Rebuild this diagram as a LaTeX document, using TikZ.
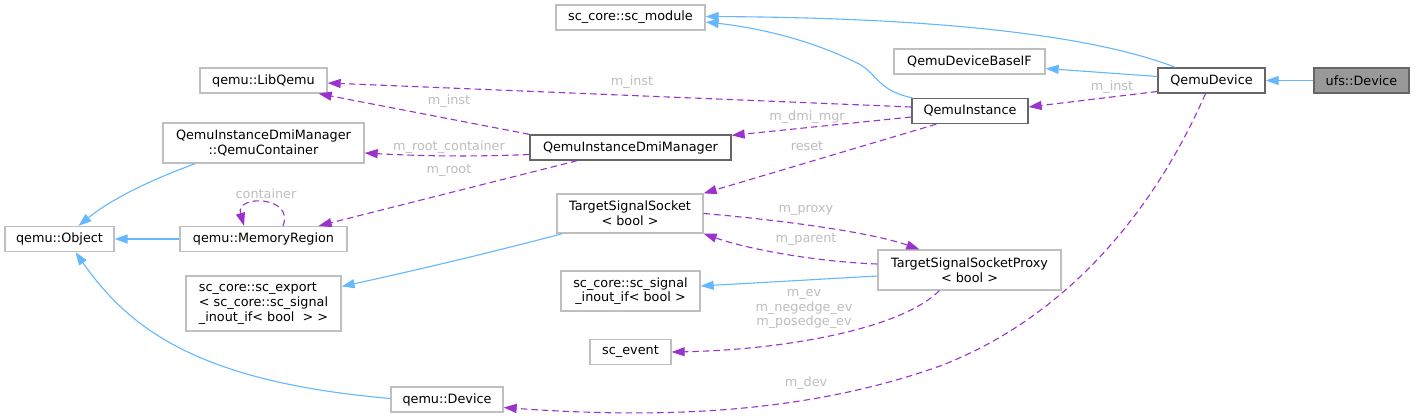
\documentclass[tikz,border=0pt]{standalone}
\usepackage{fontspec}
\setmainfont{DejaVu Sans}
\usetikzlibrary{arrows.meta,calc}
\definecolor{inh}{HTML}{63B8FF}
\definecolor{usec}{HTML}{9A32CD}
\definecolor{lbl}{HTML}{BEBEBE}
\definecolor{lightb}{HTML}{BFBFBF}
\definecolor{darkb}{HTML}{666666}
\definecolor{curfill}{HTML}{999999}
\begin{document}
\begin{tikzpicture}[x=1pt,y=-1pt,
  font=\fontsize{12.8}{14.6}\selectfont,
  box/.style={draw=lightb, line width=1.3pt, inner sep=0pt, align=center, text=black, fill=white},
  dbox/.style={box, draw=darkb},
  inhe/.style={draw=inh, line width=1.1pt, -{Triangle[length=13pt,width=9pt]}},
  usee/.style={draw=usec, line width=1.1pt, dash pattern=on 6.5pt off 4pt, -{Triangle[length=13pt,width=9pt]}},
  elbl/.style={text=lbl, align=center, inner sep=0pt}]
\useasboundingbox[fill=white] (0,0) rectangle (1415,419);

% nodes
\node[box, minimum width=149pt, minimum height=25pt] (scmod) at (630.5,17.5) {sc\_core::sc\_module};
\node[box, minimum width=151pt, minimum height=25pt] (baseif) at (969.5,61.5) {QemuDeviceBaseIF};
\node[dbox, minimum width=107pt, minimum height=25pt] (qdev) at (1211.5,80.5) {QemuDevice};
\node[dbox, fill=curfill, minimum width=95pt, minimum height=25pt] (ufs) at (1361.5,80.5) {ufs::Device};
\node[dbox, minimum width=116pt, minimum height=25pt] (qinst) at (970,111) {QemuInstance};
\node[box, minimum width=127pt, minimum height=25pt] (libq) at (263.5,80.5) {qemu::LibQemu};
\node[box, minimum width=201pt, minimum height=40pt] (qcont) at (263.5,143) {QemuInstanceDmiManager\\::QemuContainer};
\node[dbox, minimum width=201pt, minimum height=25pt] (dmi) at (630.5,147.5) {QemuInstanceDmiManager};
\node[box, minimum width=167pt, minimum height=25pt] (memreg) at (263.5,239) {qemu::MemoryRegion};
\node[box, minimum width=109pt, minimum height=25pt] (obj) at (59.5,239) {qemu::Object};
\node[box, minimum width=146pt, minimum height=39pt] (tss) at (630,213.5) {TargetSignalSocket\\< bool >};
\node[box, minimum width=183pt, minimum height=40pt] (proxy) at (969.5,270) {TargetSignalSocketProxy\\< bool >};
\node[box, minimum width=155pt, minimum height=55pt, align=left] (export) at (263.5,303.5) {sc\_core::sc\_export\\< sc\_core::sc\_signal\\\_inout\_if< bool\ \ > >};
\node[box, minimum width=139pt, minimum height=40pt] (sigif) at (630.5,291) {sc\_core::sc\_signal\\\_inout\_if< bool >};
\node[box, minimum width=81pt, minimum height=25pt] (scev) at (630.5,352) {sc\_event};
\node[box, minimum width=112pt, minimum height=25pt] (qdevice) at (447,399.5) {qemu::Device};

% inheritance edges
\draw[inhe] ($(qdev.north west)+(18,0)$) .. controls (1110,42) and (980,18) .. ($(scmod.east)+(0,-1)$);
\draw[inhe] ($(qinst.north west)+(1,0)$) .. controls (875,90) and (878,72) .. (855,62)
   .. controls (810,40) and (760,28) .. ($(scmod.east)+(0,4.5)$);
\draw[inhe] ($(qdev.west)+(0,-4)$) -- ($(baseif.east)+(0,7)$);
\draw[inhe] (ufs.west) -- (qdev.east);
\draw[inhe] ($(qcont.south west)+(33,0)$) .. controls (150,180) and (110,200) .. ($(obj.north)+(19,0)$);
\draw[inhe] (memreg.west) -- (obj.east);
\draw[inhe] ($(tss.south west)+(6,0)$) .. controls (520,245) and (440,265) .. ($(export.east)+(0,-17)$);
\draw[inhe] ($(proxy.west)+(0,6)$) -- ($(sigif.east)+(0,-5)$);
\draw[inhe] ($(qdevice.west)+(0,-1)$) .. controls (200,382) and (130,330) .. ($(obj.south)+(16,0)$);

% usage edges
\draw[usee] ($(qinst.west)+(0,-4)$) -- ($(libq.east)+(0,2.5)$);
\node[elbl] (l1) at (632,82) {m\_inst};
\draw[usee] (dmi.north west) -- ($(libq.south east)+(-9,0)$);
\node[elbl] (l2) at (449,101) {m\_inst};
\draw[usee] ($(qinst.west)+(0,6)$) -- ($(dmi.north east)+(0,1)$);
\node[elbl] (l3) at (807,117) {m\_dmi\_mgr};
\draw[usee] ($(dmi.west)+(0,7)$) .. controls (470,157) and (420,156) .. ($(qcont.east)+(0,10)$);
\node[elbl] (l4) at (449,147) {m\_root\_container};
\draw[usee] ($(dmi.south west)+(48,0)$) -- ($(memreg.north east)+(-29,0)$);
\node[elbl] (l5) at (449,171) {m\_root};
\draw[usee] ($(memreg.north)+(19.5,0)$) .. controls (295,196) and (235,194) .. ($(memreg.north)+(-19.5,0)$);
\node[elbl] (l6) at (266,194) {container};
\draw[usee] ($(qinst.south west)+(25,0)$) -- (tss.north east);
\node[elbl] (l7) at (807,146) {reset};
\draw[usee] ($(qdev.west)+(0,11)$) -- ($(qinst.east)+(0,-4)$);
\node[elbl] (l8) at (1112,87) {m\_inst};
\draw[usee] (tss.east) .. controls (780,220) and (870,232) .. ($(proxy.north west)+(42,0)$);
\node[elbl] (l9) at (806,210) {m\_proxy};
\draw[usee] ($(proxy.west)+(0,-6)$) .. controls (820,262) and (750,250) .. (tss.south east);
\node[elbl] (l10) at (806,240) {m\_parent};
\draw[usee] ($(proxy.south west)+(62,0)$) .. controls (900,330) and (780,350) .. (scev.east);
\node[elbl] (l11) at (804,309) {m\_ev\\m\_negedge\_ev\\m\_posedge\_ev};
\draw[usee] ($(qdev.south)+(-6,0)$) .. controls (1150,220) and (1060,320) .. (940,366)
   .. controls (800,416) and (650,418) .. ($(qdevice.east)+(0,8)$);
\node[elbl] (l12) at (806,383) {m\_dev};
\end{tikzpicture}
\end{document}
